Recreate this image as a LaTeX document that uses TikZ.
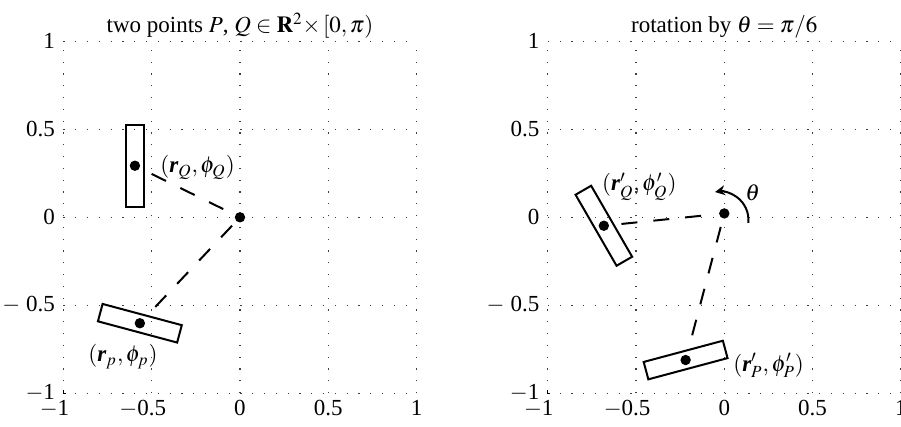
\documentclass[tikz,border=0pt]{standalone}
\usepackage{mathptmx}
\usepackage{fontspec}
\setmainfont{Liberation Serif}
\usetikzlibrary{arrows.meta}
\newcommand{\rv}{\mbox{\bfseries\itshape r}}
\begin{document}
\begin{tikzpicture}[x=88.3pt,y=88pt,
  every node/.style={font=\fontsize{11.5}{13}\selectfont},
  gridline/.style={line width=0.6pt, black!75, dash pattern=on 0.6pt off 5.3pt},
  dot/.style={circle, fill=black, inner sep=0pt, minimum size=5.2pt},
  bar/.style={draw, line width=1pt, rectangle, minimum width=41pt, minimum height=9pt, inner sep=0pt},
  link/.style={line width=1pt, dash pattern=on 8pt off 8pt},
  ticklab/.style={inner sep=0pt},
  lab/.style={inner sep=0pt, anchor=west}]
\useasboundingbox (-120pt,-104.85pt) rectangle (330.5pt,108.65pt);

% ---------- left plot ----------
\begin{scope}
  \foreach \v in {-1,-0.5,0,0.5,1} {
    \draw[gridline] (-1,\v) -- (1,\v);
    \draw[gridline] (\v,-1) -- (\v,1);
  }
  \draw[line width=0.6pt] (-1,-0.982) -- (-1,-1) -- (-0.985,-1);
  \node[ticklab, anchor=east, xshift=-4pt] (ly1) at (-1,1) {1};
  \node[ticklab, anchor=east, xshift=-4pt] (ly2) at (-1,0.5) {0.5};
  \node[ticklab, anchor=east, xshift=-4pt] (ly3) at (-1,0) {0};
  \node[ticklab, anchor=east, xshift=-4pt] (ly4) at (-1,-0.5) {$-$\hspace{3pt}0.5};
  \node[ticklab, anchor=east, xshift=-4pt] (ly5) at (-1,-1) {$-$1};
  \node[ticklab, anchor=north, yshift=-3.5pt] (lx1) at (-1,-1) {\llap{$-$}1};
  \node[ticklab, anchor=north, yshift=-3.5pt] (lx2) at (-0.5,-1) {\llap{$-$}0.5};
  \node[ticklab, anchor=north, yshift=-3.5pt] (lx3) at (0,-1) {0};
  \node[ticklab, anchor=north, yshift=-3.5pt] (lx4) at (0.5,-1) {0.5};
  \node[ticklab, anchor=north, yshift=-3.5pt] (lx5) at (1,-1) {1};
  \node[anchor=base] (titleL) at (0,1.05) {two points $P$, $Q\in\mathbf{R}^2{\times}\,[0,\pi)$};

  \node[bar, rotate=90] (barQ) at (-0.595,0.293) {};
  \node[bar, rotate=-15] (barP) at (-0.567,-0.602) {};
  \node[dot] (O) at (0,0) {};
  \node[dot] (Q) at (-0.595,0.293) {};
  \node[dot] (P) at (-0.567,-0.602) {};
  \draw[link, shorten <=9.3pt, shorten >=9.3pt] (Q.center) -- (O.center);
  \draw[link, shorten <=5.75pt, shorten >=11.2pt] (O.center) -- (P.center);
  \node[lab] (labQ) at (-0.453,0.283) {$(\rv_Q,\phi_Q)$};
  \node[lab] (labP) at (-0.861,-0.791) {$(\rv_p,\phi_p)$};
\end{scope}

% ---------- right plot ----------
\begin{scope}[xshift=242.15pt]
  \foreach \v in {-1,-0.5,0,0.5,1} {
    \draw[gridline] (-1,\v) -- (1,\v);
    \draw[gridline] (\v,-1) -- (\v,1);
  }
  \draw[line width=0.6pt] (-1,-0.982) -- (-1,-1) -- (-0.985,-1);
  \node[ticklab, anchor=east, xshift=-4pt] (ry1) at (-1,1) {1};
  \node[ticklab, anchor=east, xshift=-4pt] (ry2) at (-1,0.5) {0.5};
  \node[ticklab, anchor=east, xshift=-4pt] (ry3) at (-1,0) {0};
  \node[ticklab, anchor=east, xshift=-4pt] (ry4) at (-1,-0.5) {$-$\hspace{3pt}0.5};
  \node[ticklab, anchor=east, xshift=-4pt] (ry5) at (-1,-1) {$-$1};
  \node[ticklab, anchor=north, yshift=-3.5pt] (rx1) at (-1,-1) {\llap{$-$}1};
  \node[ticklab, anchor=north, yshift=-3.5pt] (rx2) at (-0.5,-1) {\llap{$-$}0.5};
  \node[ticklab, anchor=north, yshift=-3.5pt] (rx3) at (0,-1) {0};
  \node[ticklab, anchor=north, yshift=-3.5pt] (rx4) at (0.5,-1) {0.5};
  \node[ticklab, anchor=north, yshift=-3.5pt] (rx5) at (1,-1) {1};
  \node[anchor=base] (titleR) at (0,1.05) {rotation by $\theta=\pi/6$};

  \node[bar, rotate=120] (barQr) at (-0.682,-0.048) {};
  \node[bar, rotate=15] (barPr) at (-0.219,-0.811) {};
  \node[dot] (Or) at (0,0.022) {};
  \node[dot] (Qr) at (-0.682,-0.048) {};
  \node[dot] (Pr) at (-0.219,-0.811) {};
  \draw[link, shorten <=8.85pt, shorten >=11.6pt] (Qr.center) -- (Or.center);
  \draw[link, shorten <=7pt, shorten >=12.5pt] (Or.center) -- (Pr.center);
  \coordinate (arcC) at (-0.0246,-0.0153);
  \draw[line width=1pt, -{Stealth[length=5pt,width=5pt]}]
    ([shift={(-6:0.1614)}]arcC) arc[start angle=-6, end angle=100, radius=0.1614];
  \node (th) at (0.161,0.138) {$\theta$};
  \node[lab] (labQr) at (-0.694,0.175) {$(\rv'_Q,\phi'_Q)$};
  \node[lab] (labPr) at (0.049,-0.842) {$(\rv'_P,\phi'_P)$};
\end{scope}
\end{tikzpicture}
\end{document}
